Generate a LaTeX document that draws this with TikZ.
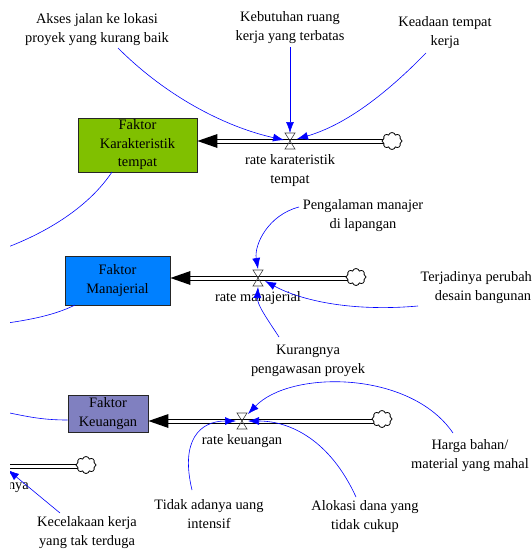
\documentclass[tikz,border=0pt]{standalone}
\usepackage{fontspec}
\setmainfont{Liberation Serif}
\usetikzlibrary{arrows.meta,shapes.symbols,calc}
\definecolor{gstock}{RGB}{128,192,0}
\definecolor{bstock}{RGB}{0,128,255}
\definecolor{pstock}{RGB}{128,128,192}
\begin{document}
\begin{tikzpicture}[x=1pt,y=-1pt,
  lbl/.style={align=center,font=\fontsize{14.4}{19}\selectfont,inner sep=0pt},
  stock/.style={draw=black!85,line width=0.9pt,align=center,inner sep=0pt,font=\fontsize{14.4}{18.5}\selectfont},
  link/.style={draw=blue,line width=0.6pt,-{Latex[length=11pt,width=8pt]}},
  plainlink/.style={draw=blue,line width=0.6pt},
  pipeline/.style={draw=black,line width=1pt},
  cloudy/.style={cloud,draw,cloud puffs=8,cloud puff arc=150,aspect=1.25,minimum width=20pt,minimum height=17pt,inner sep=0pt,line width=0.8pt,fill=white},
  valve/.pic={\draw[line width=0.6pt,draw=black!75] (-5,-8)--(5,-8)--(-5,8)--(5,8)--cycle;}
]
\useasboundingbox (0,0) rectangle (532,549);
\clip (10,0) rectangle (532,549);

% stocks
\node[stock,fill=gstock,minimum width=119pt,minimum height=54pt] (s1) at (137.5,145) {Faktor\\Karakteristik\\tempat};
\node[stock,fill=bstock,minimum width=105pt,minimum height=49pt] (s2) at (117.5,280.5) {Faktor\\Manajerial};
\node[stock,fill=pstock,minimum width=80pt,minimum height=37pt] (s3) at (108,413.5) {Faktor\\Keuangan};

% valves
\coordinate (v1) at (290,141);
\coordinate (v2) at (258,278);
\coordinate (v3) at (242,421);
\coordinate (p4) at (0,466);

% pipes (two parallel lines each)
\foreach \d in {-2,2}{
  \draw[pipeline] ($(392,141)+(0,\d)$) -- ($([xshift=19pt]s1.east |- v1)+(0,\d)$);
  \draw[pipeline] ($(356,278)+(0,\d)$) -- ($([xshift=19pt]s2.east |- v2)+(0,\d)$);
  \draw[pipeline] ($(382,421)+(0,\d)$) -- ($([xshift=19pt]s3.east |- v3)+(0,\d)$);
  \draw[pipeline] ($(p4)+(0,\d)$) -- ($(86,466)+(0,\d)$);
}

\node[cloudy] (c1) at (392,141) {};
\node[cloudy] (c2) at (356,277) {};
\node[cloudy] (c3) at (382,419) {};
\node[cloudy] (c4) at (86,465) {};

\fill (s1.east |- v1) -- ++(20,-7) -- ++(0,14) -- cycle;
\fill (s2.east |- v2) -- ++(20,-7) -- ++(0,14) -- cycle;
\fill (s3.east |- v3) -- ++(20,-7) -- ++(0,14) -- cycle;

\pic at (v1) {valve};
\pic at (v2) {valve};
\pic at (v3) {valve};

% labels
\node[lbl] (akses) at (97,30) {Akses jalan ke lokasi\\proyek yang kurang baik};
\node[lbl] (kebut) at (290,28) {Kebutuhan ruang\\kerja yang terbatas};
\node[lbl] (keadaan) at (445,33) {Keadaan tempat\\kerja};
\node[lbl] (r1) at (290,171) {rate karateristik\\tempat};
\node[lbl] (peng) at (363,216) {Pengalaman manajer\\di lapangan};
\node[lbl] (terj) at (483,288) {Terjadinya perubahan\\desain bangunan};
\node[lbl] (r2) at (258,298) {rate manajerial};
\node[lbl] (kur) at (308,361) {Kurangnya\\pengawasan proyek};
\node[lbl] (r3) at (242,441) {rate keuangan};
\node[lbl] (harga) at (470,456) {Harga bahan/\\material yang mahal};
\node[lbl] (alok) at (365,517) {Alokasi dana yang\\tidak cukup};
\node[lbl] (tidak) at (209,514) {Tidak adanya uang\\intensif};
\node[lbl] (kec) at (87,533) {Kecelakaan kerja\\yang tak terduga};
\node[lbl,anchor=east] (nya) at (29,488) {nya};

% links - karakteristik
\draw[link] (118,48) .. controls (170,100) and (230,128) .. ($(v1)+(-6,-1)$);
\draw[link] (kebut.south |- 0,47) -- ($(v1)+(0,-8)$);
\draw[link] (426,53) .. controls (385,95) and (345,125) .. ($(v1)+(7,-2)$);
\draw[plainlink] (112,172) .. controls (90,205) and (50,232) .. (0,250);

% links - manajerial
\draw[link] (299,207) .. controls (268,215) and (254,245) .. ($(v2)+(0,-9)$);
\draw[link] (418,306) .. controls (350,312) and (300,300) .. ($(v2)+(7,3)$);
\draw[link] (279,337) .. controls (268,320) and (257,305) .. ($(v2)+(0,9)$);
\draw[plainlink] (75,305) .. controls (55,315) and (30,320) .. (0,324);

% links - keuangan
\draw[link] (453,433) .. controls (410,370) and (290,370) .. ($(v3)+(6,-7)$);
\draw[link] (356,497) .. controls (330,440) and (290,421) .. ($(v3)+(6,0)$);
\draw[link] (192,490) .. controls (180,440) and (200,421) .. ($(v3)+(-6,0)$);
\draw[plainlink] (s3.west |- 0,420) .. controls (40,420) and (25,416) .. (0,411);

% kecelakaan
\draw[link] (60,513) -- (8,470);
\end{tikzpicture}
\end{document}
